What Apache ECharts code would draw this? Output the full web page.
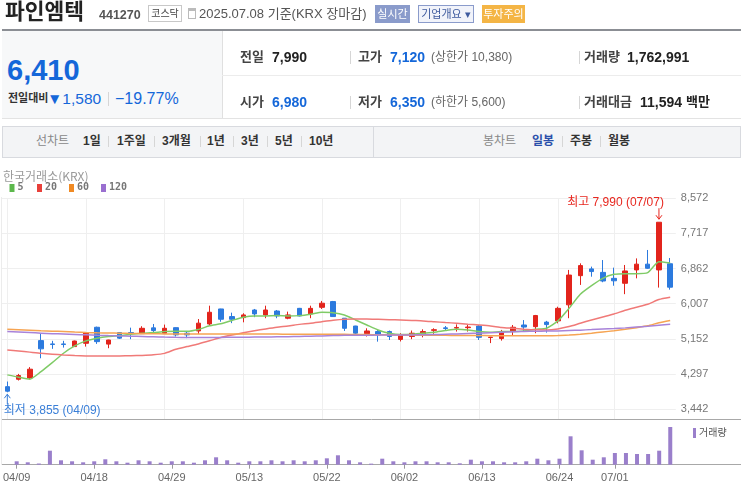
<!DOCTYPE html>
<html>
<head>
<meta charset="utf-8">
<script src="https://cdn.jsdelivr.net/npm/echarts@6/dist/echarts.min.js"></script>
<style>
  body { margin: 0; width: 743px; height: 488px; overflow: hidden; background: #fff;
         font-family: "Liberation Sans", "Noto Sans CJK KR", sans-serif; position: relative; }
  #chart { position: absolute; left: 0; top: 0; width: 743px; height: 488px; }
  .t { position: absolute; white-space: nowrap; line-height: 1; }
  .box { position: absolute; box-sizing: border-box; text-align: center; white-space: nowrap; }
  .sep { position: absolute; width: 1px; background: #d6d6d6; }
</style>
</head>
<body>
<div id="chart"></div>

<!-- 상단 종목 정보 -->
<span class="t" style="left:5px;top:2px;font-size:21.5px;font-weight:bold;color:#222">파인엠텍</span>
<span class="t" style="left:99px;top:9px;font-size:12.5px;font-weight:bold;color:#555">441270</span>
<div class="box" style="left:148px;top:5px;width:34px;height:17px;border:1px solid #c8c8c8;font-size:10px;line-height:15px;color:#444">코스닥</div>
<div class="box" style="left:188px;top:8px;width:8px;height:11px;border:1px solid #bbb;border-top:3px solid #bbb"></div>
<span class="t" style="left:199px;top:7px;font-size:13px;color:#555">2025.07.08 기준(KRX 장마감)</span>
<div class="box" style="left:375px;top:5px;width:35px;height:18px;background:#8a9bcb;color:#fff;font-size:11px;line-height:18px">실시간</div>
<div class="box" style="left:418px;top:5px;width:56px;height:18px;border:1px solid #8a9bcb;background:#f1f3fa;color:#3e5a9e;font-size:11px;line-height:16px">기업개요 ▾</div>
<div class="box" style="left:482px;top:5px;width:43px;height:18px;background:#f4b545;color:#fff;font-size:11px;line-height:18px">투자주의</div>

<div style="position:absolute;left:2px;top:29px;width:739px;height:2px;background:#8b8e94"></div>
<div style="position:absolute;left:2px;top:31px;width:220px;height:87px;background:#f7f8f9"></div>
<div style="position:absolute;left:222px;top:31px;width:1px;height:87px;background:#e0e0e0"></div>
<div style="position:absolute;left:222px;top:75px;width:519px;height:1px;background:#ececec"></div>
<div style="position:absolute;left:2px;top:118px;width:739px;height:1px;background:#e3e3e3"></div>

<span class="t" style="left:7px;top:56px;font-size:29px;font-weight:bold;color:#1467d9">6,410</span>
<span class="t" style="left:8px;top:93px;font-size:11px;font-weight:bold;color:#333">전일대비</span>
<span class="t" style="left:47px;top:91px;font-size:15.5px;color:#1467d9">▼1,580</span>
<div class="sep" style="left:108px;top:92px;height:14px"></div>
<span class="t" style="left:115px;top:91px;font-size:16px;color:#1467d9">−19.77%</span>

<span class="t" style="left:240px;top:50px;font-size:13px;font-weight:bold;color:#444">전일</span>
<span class="t" style="left:272px;top:50px;font-size:14px;font-weight:bold;color:#222">7,990</span>
<div class="sep" style="left:350px;top:51px;height:13px"></div>
<span class="t" style="left:358px;top:50px;font-size:13px;font-weight:bold;color:#444">고가</span>
<span class="t" style="left:390px;top:50px;font-size:14px;font-weight:bold;color:#1467d9">7,120</span>
<span class="t" style="left:431px;top:51px;font-size:12px;color:#666">(상한가 10,380)</span>
<div class="sep" style="left:579px;top:51px;height:13px"></div>
<span class="t" style="left:584px;top:50px;font-size:13px;font-weight:bold;color:#444">거래량</span>
<span class="t" style="left:627px;top:50px;font-size:14px;font-weight:bold;color:#222">1,762,991</span>

<span class="t" style="left:240px;top:95px;font-size:13px;font-weight:bold;color:#444">시가</span>
<span class="t" style="left:272px;top:95px;font-size:14px;font-weight:bold;color:#1467d9">6,980</span>
<div class="sep" style="left:350px;top:96px;height:13px"></div>
<span class="t" style="left:358px;top:95px;font-size:13px;font-weight:bold;color:#444">저가</span>
<span class="t" style="left:390px;top:95px;font-size:14px;font-weight:bold;color:#1467d9">6,350</span>
<span class="t" style="left:431px;top:96px;font-size:12px;color:#666">(하한가 5,600)</span>
<div class="sep" style="left:579px;top:96px;height:13px"></div>
<span class="t" style="left:584px;top:95px;font-size:13px;font-weight:bold;color:#444">거래대금</span>
<span class="t" style="left:640px;top:95px;font-size:14px;font-weight:bold;color:#222">11,594</span>
<span class="t" style="left:686px;top:95px;font-size:13px;font-weight:bold;color:#222">백만</span>

<!-- 차트 기간 탭 -->
<div style="position:absolute;left:2px;top:126px;width:737px;height:30px;background:#f3f4f6;border:1px solid #d8dadf"></div>
<div class="sep" style="left:373px;top:127px;height:30px;background:#d8dadf"></div>
<span class="t" style="left:36px;top:135px;font-size:12px;color:#888">선차트</span>
<span class="t" style="left:83px;top:135px;font-size:12px;font-weight:bold;color:#333">1일</span>
<div class="sep" style="left:108px;top:136px;height:11px"></div>
<span class="t" style="left:117px;top:135px;font-size:12px;font-weight:bold;color:#333">1주일</span>
<div class="sep" style="left:154px;top:136px;height:11px"></div>
<span class="t" style="left:162px;top:135px;font-size:12px;font-weight:bold;color:#333">3개월</span>
<div class="sep" style="left:200px;top:136px;height:11px"></div>
<span class="t" style="left:207px;top:135px;font-size:12px;font-weight:bold;color:#333">1년</span>
<div class="sep" style="left:233px;top:136px;height:11px"></div>
<span class="t" style="left:241px;top:135px;font-size:12px;font-weight:bold;color:#333">3년</span>
<div class="sep" style="left:267px;top:136px;height:11px"></div>
<span class="t" style="left:275px;top:135px;font-size:12px;font-weight:bold;color:#333">5년</span>
<div class="sep" style="left:301px;top:136px;height:11px"></div>
<span class="t" style="left:309px;top:135px;font-size:12px;font-weight:bold;color:#333">10년</span>
<span class="t" style="left:483px;top:135px;font-size:12px;color:#888">봉차트</span>
<span class="t" style="left:532px;top:135px;font-size:12px;font-weight:bold;color:#2a4faa">일봉</span>
<div class="sep" style="left:562px;top:136px;height:11px"></div>
<span class="t" style="left:570px;top:135px;font-size:12px;font-weight:bold;color:#333">주봉</span>
<div class="sep" style="left:600px;top:136px;height:11px"></div>
<span class="t" style="left:608px;top:135px;font-size:12px;font-weight:bold;color:#333">월봉</span>

<script>
// 일자
const dates = ['04/09','04/10','04/11','04/14','04/15','04/16','04/17','04/18','04/21','04/22',
  '04/23','04/24','04/25','04/28','04/29','04/30','05/02','05/07','05/08','05/09',
  '05/12','05/13','05/14','05/15','05/16','05/19','05/20','05/21','05/22','05/23',
  '05/26','05/27','05/28','05/29','05/30','06/02','06/04','06/05','06/09','06/10',
  '06/11','06/12','06/13','06/16','06/17','06/18','06/19','06/20','06/23','06/24',
  '06/25','06/26','06/27','06/30','07/01','07/02','07/03','07/04','07/07','07/08'];
const labelDates = ['04/09','04/18','04/29','05/13','05/22','06/02','06/13','06/24','07/01'];
const priceTicks = [3442, 4297, 5152, 6007, 6862, 7717, 8572];

// 시가 / 종가 / 저가 / 고가
const opens = [3990,4170,4200,5110,5030,5030,4965,5045,5435,5025,
  5305,5305,5280,5420,5290,5425,5290,5345,5515,5880,
  5695,5670,5855,5735,5830,5655,5895,5760,5920,6060,
  5655,5465,5280,5330,5330,5140,5210,5250,5360,5420,
  5415,5425,5465,5185,5160,5330,5490,5450,5560,5590,
  5980,6690,6855,6770,6625,6505,6830,6970,6830,6980];
const closes = [3880,4260,4415,4910,5015,5015,5100,5305,5085,5125,
  5170,5290,5410,5355,5410,5250,5250,5535,5800,5630,
  5630,5735,5760,5855,5710,5735,5710,5895,6020,5695,
  5410,5290,5345,5250,5210,5250,5290,5330,5375,5405,
  5430,5440,5190,5195,5310,5435,5440,5720,5500,5895,
  6705,6935,6790,6560,6565,6805,6970,6870,7990,6410];
const lows = [3855,4140,4180,4680,4910,4940,4960,4965,5030,4925,
  5150,5145,5270,5305,5280,5210,5170,5270,5475,5570,
  5535,5555,5680,5655,5655,5630,5700,5655,5880,5690,
  5345,5250,5210,5085,5125,5090,5145,5190,5275,5355,
  5330,5330,5125,5050,5110,5230,5330,5290,5305,5530,
  5655,6465,6665,6530,6445,6240,6625,6855,6400,6350];
const highs = [4115,4300,4465,5275,5105,5105,5110,5310,5450,5130,
  5320,5425,5460,5515,5500,5430,5345,5635,5960,5885,
  5790,5775,5880,5960,5855,5815,5905,5960,6075,6075,
  5660,5470,5410,5385,5355,5290,5355,5385,5410,5465,
  5505,5490,5490,5200,5370,5490,5610,5735,5590,5935,
  6830,6990,6910,7070,6885,6950,7110,7315,7990,7120];

// 거래량
const volumes = [159000,112000,55000,655000,206000,159000,112000,159000,253000,159000,
  94000,206000,159000,94000,159000,159000,94000,206000,346000,206000,
  94000,159000,159000,206000,159000,206000,159000,206000,299000,440000,
  206000,112000,50000,281000,159000,112000,159000,159000,112000,112000,
  65000,234000,159000,159000,112000,112000,159000,281000,206000,281000,
  1328000,673000,234000,346000,547000,547000,500000,500000,655000,1762991];

// 이동평균선
const ma5 = [4277,4220,4172,4357,4575,4803,4981,5103,5168,5208,
  5232,5266,5290,5305,5330,5335,5335,5380,5470,5520,
  5600,5680,5711,5711,5718,5711,5718,5752,5800,5790,
  5735,5613,5491,5370,5290,5257,5265,5290,5314,5354,
  5386,5370,5330,5314,5330,5330,5346,5386,5412,5589,
  5897,6238,6447,6625,6723,6739,6739,6763,7031,6999];
const ma20 = [4884,4860,4830,4800,4780,4760,4745,4738,4735,4735,
  4738,4742,4750,4765,4800,4900,4965,5030,5105,5185,
  5245,5300,5350,5395,5436,5467,5505,5533,5570,5605,
  5630,5637,5635,5630,5620,5613,5600,5590,5570,5550,
  5533,5510,5490,5467,5430,5410,5388,5372,5370,5395,
  5451,5533,5613,5686,5759,5849,5922,5995,6110,6165];
const ma60 = [5386,5375,5362,5350,5340,5330,5318,5308,5300,5295,
  5290,5285,5280,5277,5274,5272,5270,5270,5270,5270,
  5270,5270,5269,5268,5268,5267,5267,5266,5265,5264,
  5262,5260,5257,5254,5251,5248,5245,5242,5240,5238,
  5236,5234,5232,5231,5230,5230,5230,5230,5231,5232,
  5245,5265,5290,5320,5350,5385,5425,5470,5545,5600];
const ma120 = [5330,5318,5305,5292,5280,5270,5260,5250,5240,5232,
  5225,5218,5210,5202,5195,5190,5188,5186,5186,5188,
  5190,5192,5195,5198,5202,5206,5212,5218,5225,5232,
  5238,5240,5242,5244,5245,5246,5248,5252,5258,5265,
  5272,5282,5292,5304,5315,5325,5333,5338,5342,5346,
  5355,5365,5378,5392,5405,5420,5440,5460,5485,5508];

const UP = '#e2241c', DOWN = '#2c7ade';
const GRID_LEFT = 1.7, GRID_W = 674.1;
const showDate = (i, v) => labelDates.indexOf(v) >= 0;

const chart = echarts.init(document.getElementById('chart'));

const option = {
  animation: false,
  textStyle: { fontFamily: '"Liberation Sans", "Noto Sans CJK KR", sans-serif' },
  grid: [
    { left: GRID_LEFT, top: 198.3, width: GRID_W, height: 221 },
    { left: GRID_LEFT, top: 419.7, width: GRID_W, height: 45 }
  ],
  xAxis: [
    {
      type: 'category', gridIndex: 0, data: dates, boundaryGap: true,
      axisLine: { show: false }, axisTick: { show: false }, axisLabel: { show: false },
      splitLine: { show: true, interval: showDate, alignWithLabel: true, lineStyle: { color: '#efefef' } }
    },
    {
      type: 'category', gridIndex: 1, data: dates, boundaryGap: true,
      axisLine: { show: false },
      axisTick: { show: true, interval: showDate, alignWithLabel: true, length: 4, lineStyle: { color: '#999' } },
      axisLabel: { interval: showDate, color: '#666', fontSize: 11, margin: 8 },
      splitLine: { show: false }
    }
  ],
  yAxis: [
    {
      type: 'value', gridIndex: 0, position: 'right', min: 3196, max: 8572, scale: true,
      axisLine: { show: false },
      axisTick: { show: false, customValues: priceTicks },
      axisLabel: { customValues: priceTicks, color: '#777', fontSize: 11, margin: 5,
                   formatter: v => Math.round(v).toLocaleString('en-US') },
      splitLine: { show: true, customValues: priceTicks, lineStyle: { color: '#efefef' } }
    },
    {
      type: 'value', gridIndex: 1, min: 0, max: 2104000, show: false, splitLine: { show: false }
    }
  ],
  series: [
    { name: '5', type: 'line', data: ma5, symbol: 'none', smooth: 0.2,
      lineStyle: { color: '#7fcb66', width: 1.5 } },
    { name: '20', type: 'line', data: ma20, symbol: 'none', smooth: 0.2,
      lineStyle: { color: '#f07a78', width: 1.5 } },
    { name: '60', type: 'line', data: ma60, symbol: 'none', smooth: 0.2,
      lineStyle: { color: '#f6a452', width: 1.5 } },
    { name: '120', type: 'line', data: ma120, symbol: 'none', smooth: 0.2,
      lineStyle: { color: '#a883d9', width: 1.5 } },
    {
      name: '일봉', type: 'candlestick', barWidth: 5,
      data: dates.map((d, i) => [opens[i], closes[i], lows[i], highs[i]]),
      itemStyle: { color: UP, color0: DOWN, borderColor: UP, borderColor0: DOWN, borderWidth: 1 }
    },
    {
      name: '거래량', type: 'bar', xAxisIndex: 1, yAxisIndex: 1, data: volumes,
      barWidth: 4, itemStyle: { color: '#9a7fcb' }
    }
  ]
};
chart.setOption(option);

// 최고/최저 표시와 범례, 테두리
const hiIdx = highs.indexOf(Math.max(...highs));
const loIdx = lows.indexOf(Math.min(...lows));
const hiPt = chart.convertToPixel({ xAxisIndex: 0, yAxisIndex: 0 }, [hiIdx, highs[hiIdx]]);
const loPt = chart.convertToPixel({ xAxisIndex: 0, yAxisIndex: 0 }, [loIdx, lows[loIdx]]);
const fmt = v => v.toLocaleString('en-US');

const legendItems = [
  { name: '5', color: '#5cb84c', x: 9.5 },
  { name: '20', color: '#e8403a', x: 37 },
  { name: '60', color: '#f08a24', x: 69 },
  { name: '120', color: '#9a6fd0', x: 101 }
];

const graphic = [
  { type: 'line', shape: { x1: 2, y1: 419.5, x2: 741, y2: 419.5 }, style: { stroke: '#a8a8a8', lineWidth: 1 } },
  { type: 'line', shape: { x1: 2, y1: 464.5, x2: 741, y2: 464.5 }, style: { stroke: '#a8a8a8', lineWidth: 1 } },
  { type: 'line', shape: { x1: 1.5, y1: 197, x2: 1.5, y2: 465 }, style: { stroke: '#ececec', lineWidth: 1 } },
  { type: 'text', left: 3, top: 170, style: { text: '한국거래소(KRX)', fill: '#9a9a9a', font: '12px "Noto Sans CJK KR"' } },
  // 거래량 범례
  { type: 'rect', shape: { x: 693, y: 428, width: 3, height: 10 }, style: { fill: '#9a7fcb' } },
  { type: 'text', left: 699, top: 427, style: { text: '거래량', fill: '#555', font: '10px "Noto Sans CJK KR"' } },
  // 최고
  { type: 'text', style: { x: hiPt[0] + 5, y: hiPt[1] - 20, text: '최고 ' + fmt(highs[hiIdx]) + ' (' + dates[hiIdx] + ')',
      fill: '#e8271f', font: '12px "Liberation Sans", "Noto Sans CJK KR"', align: 'right', verticalAlign: 'middle' } },
  { type: 'line', shape: { x1: hiPt[0], y1: hiPt[1] - 14, x2: hiPt[0], y2: hiPt[1] - 3 }, style: { stroke: '#e8271f', lineWidth: 1 } },
  { type: 'polyline', shape: { points: [[hiPt[0] - 3, hiPt[1] - 7], [hiPt[0], hiPt[1] - 3], [hiPt[0] + 3, hiPt[1] - 7]] },
    style: { stroke: '#e8271f', lineWidth: 1, fill: null } },
  // 최저
  { type: 'text', style: { x: loPt[0] - 3.5, y: loPt[1] + 18, text: '최저 ' + fmt(lows[loIdx]) + ' (' + dates[loIdx] + ')',
      fill: '#3a7fd8', font: '12px "Liberation Sans", "Noto Sans CJK KR"', align: 'left', verticalAlign: 'middle' } },
  { type: 'line', shape: { x1: loPt[0], y1: loPt[1] + 2, x2: loPt[0], y2: loPt[1] + 12 }, style: { stroke: '#3a7fd8', lineWidth: 1 } },
  { type: 'polyline', shape: { points: [[loPt[0] - 3, loPt[1] + 6], [loPt[0], loPt[1] + 2], [loPt[0] + 3, loPt[1] + 6]] },
    style: { stroke: '#3a7fd8', lineWidth: 1, fill: null } }
];
legendItems.forEach(it => {
  graphic.push({ type: 'rect', shape: { x: it.x, y: 184, width: 5, height: 8 }, style: { fill: it.color } });
  graphic.push({ type: 'text', left: it.x + 8, top: 182, style: { text: it.name, fill: '#777', font: 'bold 10px "DejaVu Sans Mono"' } });
});
chart.setOption({ graphic: graphic });
</script>
</body>
</html>
